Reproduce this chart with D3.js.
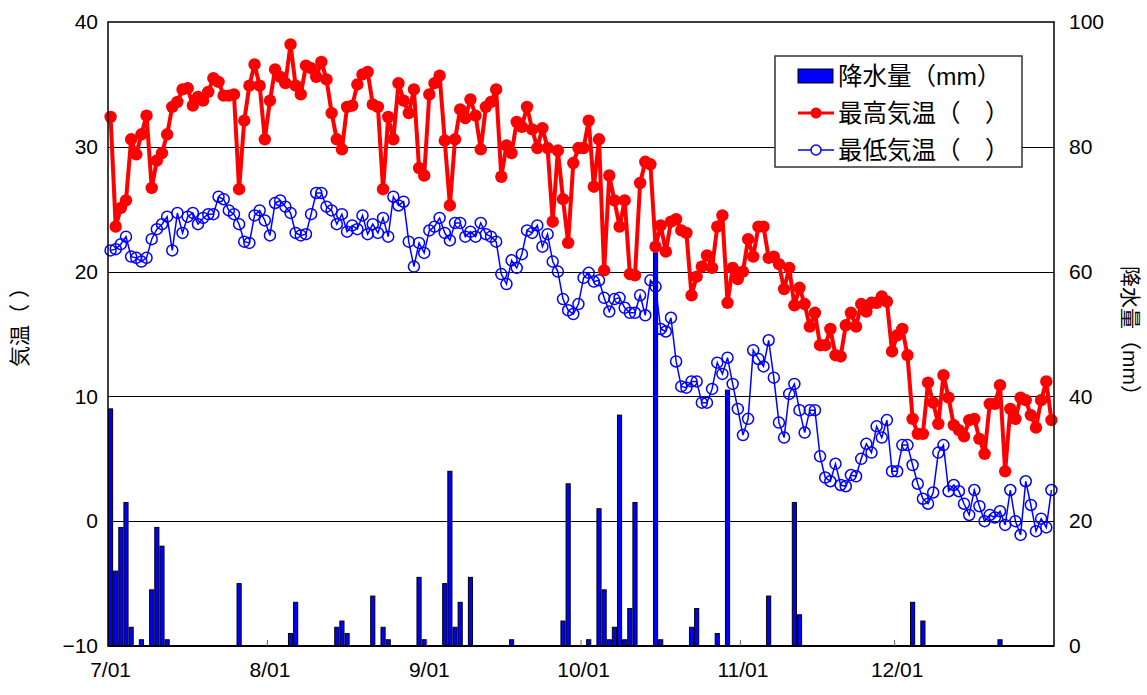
<!DOCTYPE html>
<html><head><meta charset="utf-8">
<script src="https://cdn.jsdelivr.net/npm/d3@7"></script>
<style>body{margin:0;background:#fff}svg{display:block}</style>
</head><body>
<svg id="c" width="1147" height="695"></svg>
<script>
// ---- data ----
const dates = d3.timeDay.range(new Date(2000, 6, 1), new Date(2001, 0, 1)); // 7/01 .. 12/31
const xTickLabels = ["7/01", "8/01", "9/01", "10/01", "11/01", "12/01"];
const tempTicks = [-10, 0, 10, 20, 30, 40];
const precipTicks = [0, 20, 40, 60, 80, 100];

const precip = [
 38,12,19,23,3,0,1,0,9,19,
 16,1,0,0,0,0,0,0,0,0,
 0,0,0,0,0,10,0,0,0,0,
 0,0,0,0,0,2,7,0,0,0,
 0,0,0,0,3,4,2,0,0,0,
 0,8,0,3,1,0,0,0,0,0,
 11,1,0,0,0,10,28,3,7,0,
 11,0,0,0,0,0,0,0,1,0,
 0,0,0,0,0,0,0,0,4,26,
 0,0,0,1,0,22,9,1,3,37,
 1,6,23,0,0,0,63,1,0,0,
 0,0,0,3,6,0,0,0,2,0,
 41,0,0,0,0,0,0,0,8,0,
 0,0,0,23,5,0,0,0,0,0,
 0,0,0,0,0,0,0,0,0,0,
 0,0,0,0,0,0,7,0,4,0,
 0,0,0,0,0,0,0,0,0,0,
 0,0,0,1,0,0,0,0,0,0,
 0,0,0,0
];
const tMax = [
 32.4,23.6,25.1,25.7,30.6,29.4,31.0,32.5,26.7,28.9,
 29.5,31.0,33.2,33.6,34.6,34.7,33.3,34.0,33.7,34.4,
 35.5,35.2,34.1,34.1,34.2,26.6,32.1,34.9,36.6,34.9,
 30.6,33.7,36.2,35.6,35.1,38.2,34.9,34.2,36.5,36.3,
 35.6,36.8,35.4,32.7,30.6,29.8,33.2,33.3,35.0,35.8,
 36.0,33.4,33.2,26.6,32.4,30.6,35.1,33.7,32.7,34.6,
 28.3,27.7,34.2,35.1,35.7,30.5,25.3,30.6,33.0,32.3,
 33.8,32.5,29.8,33.2,33.6,34.6,27.6,30.1,29.5,32.0,
 31.6,33.2,31.4,29.9,31.5,29.9,24.0,29.7,25.8,22.3,
 28.7,29.9,29.9,32.1,26.8,30.6,20.1,27.7,25.7,23.6,
 25.7,19.8,19.7,27.1,28.8,28.6,22.0,23.7,21.6,24.0,
 24.2,23.3,23.1,18.1,19.6,20.4,21.3,20.3,23.6,24.5,
 17.5,20.3,19.4,20.0,22.6,21.2,23.6,23.6,21.1,21.2,
 20.6,18.6,20.3,17.3,18.7,17.4,15.6,16.7,14.1,14.1,
 15.4,13.3,13.2,15.7,16.7,15.6,17.4,16.8,17.5,17.5,
 18.0,17.6,13.6,14.9,15.4,13.3,8.2,7.0,7.0,11.1,
 9.5,7.8,11.7,9.9,7.7,7.3,6.8,8.1,8.2,6.6,
 5.4,9.4,9.4,10.9,4.0,9.0,8.2,9.9,9.7,8.5,
 7.5,9.7,11.2,8.1
];
const tMin = [
 21.7,21.8,22.2,22.8,21.2,21.1,20.8,21.1,22.6,23.4,
 23.8,24.4,21.7,24.7,23.1,24.4,24.7,23.8,24.3,24.6,
 24.6,26.0,25.8,24.9,24.6,23.8,22.4,22.3,24.5,24.9,
 24.1,22.9,25.5,25.7,25.2,24.7,23.1,22.9,23.0,24.6,
 26.3,26.3,25.2,24.9,23.8,24.6,23.2,23.7,23.4,24.5,
 23.0,23.8,23.1,24.3,22.8,26.0,25.3,25.6,22.4,20.4,
 22.3,21.5,23.3,23.6,24.3,23.1,22.5,23.9,23.9,22.8,
 23.2,22.8,23.9,23.0,22.8,22.4,19.8,19.0,20.9,20.3,
 21.4,23.3,23.1,23.7,22.0,23.0,20.8,20.0,17.8,16.9,
 16.6,17.4,19.5,19.9,19.2,19.3,17.9,16.8,17.8,17.9,
 17.1,16.7,16.7,18.1,16.5,19.3,18.8,15.4,15.2,16.3,
 12.8,10.8,10.7,11.2,11.2,9.5,9.5,10.6,12.7,11.8,
 13.1,11.0,9.0,6.9,8.2,13.7,13.0,12.4,14.5,11.5,
 7.9,6.7,10.2,11.0,8.9,7.1,8.9,8.9,5.2,3.5,
 3.2,4.6,2.9,2.8,3.7,3.6,5.0,6.2,5.5,7.6,
 6.7,8.1,4.0,4.0,6.1,6.1,4.5,3.0,1.8,1.4,
 2.3,5.5,6.1,2.4,2.9,2.4,1.4,0.5,2.5,1.2,
 0.0,0.5,0.3,0.8,-0.3,2.5,0.0,-1.1,3.2,1.3,
 -0.8,0.2,-0.5,2.5
];
const legendLabels = ["降水量（mm）", "最高気温（　）", "最低気温（　）"];
const yTitleLeft = "気温（ ）";
const yTitleRight = "降水量（mm）";

// ---- layout ----
const L = 108, R = 1054, T = 22, B = 646;
const FONT = "'Liberation Sans', Arial, 'Noto Sans CJK JP', sans-serif";
const svg = d3.select("#c").style("font-family", FONT);

const idx = d3.range(dates.length);
const x = d3.scaleBand().domain(idx).range([L, R]).padding(0);
const yT = d3.scaleLinear().domain([-10, 40]).range([B, T]);
const yP = d3.scaleLinear().domain([0, 100]).range([B, T]);
const cx = i => x(i) + x.bandwidth() / 2;

// gridlines
svg.append("g").selectAll("line").data([0, 10, 20, 30]).join("line")
  .attr("x1", L).attr("x2", R)
  .attr("y1", d => Math.round(yT(d)) + 0.5).attr("y2", d => Math.round(yT(d)) + 0.5)
  .attr("stroke", "#000").attr("stroke-width", 1);

// bars
svg.append("g").selectAll("rect").data(idx.filter(i => precip[i] > 0)).join("rect")
  .attr("x", i => x(i) + 0.5)
  .attr("width", x.bandwidth() - 1)
  .attr("y", i => yP(precip[i]))
  .attr("height", i => B - yP(precip[i]))
  .attr("fill", "#0000ff").attr("stroke", "#000").attr("stroke-width", 1);

// min temp line
const lineT = d3.line().x((d, i) => cx(i)).y(d => yT(d));
svg.append("path").datum(tMin).attr("d", lineT)
  .attr("fill", "none").attr("stroke", "#0000ff").attr("stroke-width", 1.5);
svg.append("g").selectAll("circle").data(tMin).join("circle")
  .attr("cx", (d, i) => cx(i)).attr("cy", d => yT(d)).attr("r", 5.5)
  .attr("fill", "none").attr("stroke", "#0000ff").attr("stroke-width", 1.5);

// max temp line
svg.append("path").datum(tMax).attr("d", lineT)
  .attr("fill", "none").attr("stroke", "#ff0000").attr("stroke-width", 4).attr("stroke-linejoin", "round");
svg.append("g").selectAll("circle").data(tMax).join("circle")
  .attr("cx", (d, i) => cx(i)).attr("cy", d => yT(d)).attr("r", 6.2)
  .attr("fill", "#ff0000");

// plot frame
svg.append("rect").attr("x", L).attr("y", T).attr("width", R - L).attr("height", B - T)
  .attr("fill", "none").attr("stroke", "#000").attr("stroke-width", 1.5);
svg.append("line").attr("x1", L).attr("x2", R).attr("y1", B).attr("y2", B)
  .attr("stroke", "#000").attr("stroke-width", 2);

// axes
const axL = svg.append("g").attr("transform", `translate(${L},0)`)
  .call(d3.axisLeft(yT).tickValues(tempTicks).tickSize(0).tickPadding(10).tickFormat(d3.format("d")));
const axR = svg.append("g").attr("transform", `translate(${R},0)`)
  .call(d3.axisRight(yP).tickValues(precipTicks).tickSize(0).tickPadding(15).tickFormat(d3.format("d")));
const monthIdx = idx.filter(i => dates[i].getDate() === 1);
const axB = svg.append("g").attr("transform", `translate(0,${B})`)
  .call(d3.axisBottom(x).tickValues(monthIdx).tickSize(0).tickPadding(16)
    .tickFormat((d, k) => xTickLabels[k]));
[axL, axR, axB].forEach(g => {
  g.select(".domain").remove();
  g.selectAll("text").attr("font-size", 21).attr("fill", "#000").style("font-family", FONT);
});
// inward month ticks
svg.append("g").selectAll("line").data(monthIdx.slice(1)).join("line")
  .attr("x1", i => x(i)).attr("x2", i => x(i)).attr("y1", B).attr("y2", B - 6)
  .attr("stroke", "#666").attr("stroke-width", 1);

// axis titles
svg.append("text").attr("transform", "translate(27,322) rotate(-90)")
  .attr("text-anchor", "middle").attr("font-size", 21).text(yTitleLeft);
svg.append("text").attr("transform", "translate(1123,336) rotate(90)")
  .attr("text-anchor", "middle").attr("font-size", 21).text(yTitleRight);

// legend
const lg = svg.append("g");
lg.append("rect").attr("x", 775).attr("y", 56).attr("width", 247).attr("height", 111)
  .attr("fill", "#fff").attr("stroke", "#333").attr("stroke-width", 1.5);
const rowsY = [76, 113, 150];
lg.append("rect").attr("x", 798).attr("y", 69).attr("width", 35).attr("height", 14)
  .attr("fill", "#0000ff").attr("stroke", "#000").attr("stroke-width", 1);
lg.append("line").attr("x1", 798).attr("x2", 834).attr("y1", rowsY[1]).attr("y2", rowsY[1])
  .attr("stroke", "#ff0000").attr("stroke-width", 3);
lg.append("circle").attr("cx", 816).attr("cy", rowsY[1]).attr("r", 5.5).attr("fill", "#ff0000");
lg.append("line").attr("x1", 798).attr("x2", 834).attr("y1", rowsY[2]).attr("y2", rowsY[2])
  .attr("stroke", "#0000ff").attr("stroke-width", 1.5);
lg.append("circle").attr("cx", 816).attr("cy", rowsY[2]).attr("r", 5).attr("fill", "#fff")
  .attr("stroke", "#0000ff").attr("stroke-width", 1.5);
lg.selectAll("text.lt").data(legendLabels).join("text").attr("class", "lt")
  .attr("x", 838).attr("y", (d, i) => rowsY[i]).attr("dy", "0.36em")
  .attr("font-size", 24.5).text(d => d);
</script>
</body></html>
